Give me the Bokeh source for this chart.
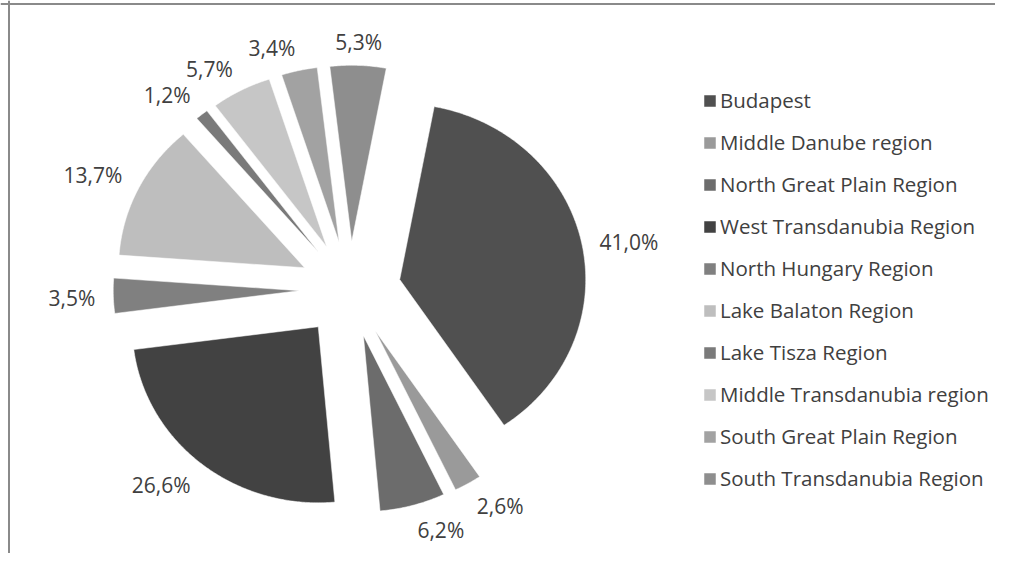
import math
from bokeh.plotting import figure
from bokeh.models import Range1d, ColumnDataSource, Legend, LegendItem, Span
from bokeh.core.properties import value
from bokeh.embed import file_html
from bokeh.resources import INLINE

# ---- data ----
regions = ["Budapest", "Middle Danube region", "North Great Plain Region",
           "West Transdanubia Region", "North Hungary Region", "Lake Balaton Region",
           "Lake Tisza Region", "Middle Transdanubia region", "South Great Plain Region",
           "South Transdanubia Region"]
shares = [41.0, 2.6, 6.2, 26.6, 3.5, 13.7, 1.2, 5.7, 3.4, 5.3]
colors = ["#505050", "#9a9a9a", "#6c6c6c", "#424242", "#808080",
          "#bebebe", "#7a7a7a", "#c6c6c6", "#a2a2a2", "#8e8e8e"]

# ---- layout ----
W, H = 995, 553
CX, CY = 349.5, 288.8        # pie centre in px from top-left of the figure
SX, SY = 186.0, 176.0        # px per pie radius (source image was stretched)
EXPLODE = 0.273              # explosion as fraction of the radius
START = 10.7                 # degrees clockwise from 12 o'clock
FONT = "Open Sans"
TXT = "#404040"

p = figure(width=W, height=H, output_backend="svg", toolbar_location=None,
           x_range=Range1d(-CX / SX, (W - CX) / SX),
           y_range=Range1d(-(H - CY) / SY, CY / SY),
           min_border=0, outline_line_color=None)
p.axis.visible = False
p.grid.visible = False
p.background_fill_color = "white"
p.border_fill_color = "white"

total = sum(shares)
xs, ys, mids = [], [], []
a = START
for v in shares:
    span = v / total * 360.0
    a0, a1 = a, a + span
    m = math.radians((a0 + a1) / 2)
    ox, oy = EXPLODE * math.sin(m), EXPLODE * math.cos(m)
    n = max(3, int(span * 2))
    px, py = [ox], [oy]
    for k in range(n + 1):
        t = math.radians(a0 + (a1 - a0) * k / n)
        px.append(ox + math.sin(t))
        py.append(oy + math.cos(t))
    xs.append(px)
    ys.append(py)
    mids.append(m)
    a = a1

src = ColumnDataSource(dict(xs=xs, ys=ys, color=colors, region=regions))
rend = p.patches("xs", "ys", source=src, fill_color="color", line_color="white", line_width=0.5)

# percentage labels, "outside end": the label box touches an anchor beyond the arc
labels = [("%.1f%%" % v).replace(".", ",") for v in shares]
r_lab = 1 + EXPLODE + 0.097
lx, ly, al, bl, yo = [], [], [], [], []
for m in mids:
    s, c = math.sin(m), math.cos(m)
    lx.append(r_lab * s)
    ly.append(r_lab * c)
    al.append("left" if s > 0.2 else ("right" if s < -0.2 else "center"))
    if c > 0.25:
        bl.append("alphabetic"); yo.append(-6)
    elif c < -0.25:
        bl.append("top"); yo.append(-6)
    else:
        bl.append("middle"); yo.append(2)
lsrc = ColumnDataSource(dict(x=lx, y=ly, text=labels, al=al, bl=bl, yo=yo))
p.text("x", "y", text="text", source=lsrc, y_offset="yo",
       text_align="al", text_baseline="bl", text_font=value(FONT),
       text_font_size="21px", text_color=TXT)

# legend
items = [LegendItem(label=r, renderers=[rend], index=i) for i, r in enumerate(regions)]
legend = Legend(items=items, location=(702, 60), glyph_width=15, glyph_height=15,
                label_standoff=3, label_height=30, spacing=12, padding=0, margin=0,
                border_line_color=None, background_fill_alpha=0,
                label_text_font=FONT, label_text_font_size="20.5px",
                label_text_color=TXT)
p.add_layout(legend)

# frame border (left and top, as in the cropped original)
p.add_layout(Span(location=(8.5 - CX) / SX, dimension="height", line_color="#8a8a8a", line_width=2))
p.add_layout(Span(location=(CY - 3.5) / SY, dimension="width", line_color="#8a8a8a", line_width=2))

open("out.html", "w").write(file_html(p, INLINE))
